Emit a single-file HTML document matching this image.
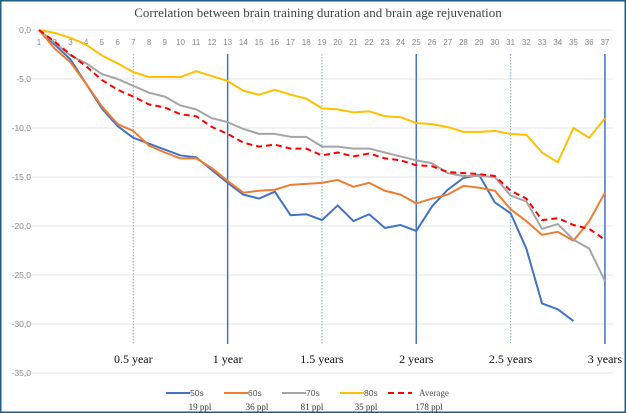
<!DOCTYPE html>
<html><head><meta charset="utf-8"><style>
body{margin:0;background:#fff}
svg{display:block}
</style></head><body>
<svg width="626" height="413" viewBox="0 0 626 413">
<rect x="0.5" y="0.5" width="625" height="412" fill="#fff" stroke="#1f5f7f" stroke-width="2"/>
<text x="318" y="17" text-anchor="middle" font-family="Liberation Serif, serif" font-size="13" fill="#444">Correlation between brain training duration and brain age rejuvenation</text>
<g id="grid"></g>
<g id="marks"></g>
<g id="legend"></g>
</svg>
<script>
const categories = Array.from({length:37},(_,i)=>String(i+1));
const s50 = [0,-1.5,-3,-5.5,-8,-9.8,-11,-11.6,-12.2,-12.8,-13,-14.3,-15.6,-16.8,-17.2,-16.5,-18.9,-18.8,-19.4,-17.9,-19.5,-18.8,-20.2,-19.9,-20.5,-18,-16.3,-15.1,-14.8,-17.6,-18.7,-22.3,-27.9,-28.5,-29.7];
const s60 = [0,-1.9,-3.3,-5.5,-7.8,-9.6,-10.3,-11.8,-12.5,-13.1,-13.1,-14.1,-15.4,-16.6,-16.4,-16.3,-15.8,-15.7,-15.6,-15.3,-16,-15.6,-16.4,-16.8,-17.7,-17.2,-16.8,-15.9,-16.1,-16.4,-18.3,-19.5,-20.9,-20.6,-21.5,-19.5,-16.6];
const s70 = [0,-1.3,-2.6,-3.4,-4.5,-5,-5.7,-6.4,-6.8,-7.7,-8.1,-9,-9.4,-10.1,-10.6,-10.6,-10.9,-10.9,-11.9,-11.9,-12.1,-12.1,-12.5,-12.9,-13.3,-13.6,-14.6,-14.9,-14.9,-15,-16.9,-17.5,-20.3,-19.8,-21.4,-22.3,-25.6];
const s80 = [0,-0.3,-0.8,-1.5,-2.6,-3.4,-4.3,-4.8,-4.8,-4.8,-4.2,-4.7,-5.2,-6.2,-6.6,-6.1,-6.6,-7,-8,-8.1,-8.4,-8.3,-8.8,-8.9,-9.5,-9.6,-9.9,-10.4,-10.4,-10.3,-10.6,-10.7,-12.5,-13.5,-10,-11,-9];
const sAvg = [0,-1.2,-2.5,-3.7,-5.1,-6.1,-6.8,-7.6,-7.9,-8.6,-8.8,-9.9,-10.6,-11.5,-11.9,-11.7,-12.1,-12.1,-12.8,-12.5,-12.9,-12.6,-13.1,-13.3,-13.8,-13.9,-14.5,-14.6,-14.7,-14.9,-16.4,-17.2,-19.4,-19.2,-19.9,-20.3,-21.4];
const yTicks = [0,-5,-10,-15,-20,-25,-30,-35];
const yTickLabels = ["0,0","-5,0","-10,0","-15,0","-20,0","-25,0","-30,0","-35,0"];
const yearCats = [7,13,19,25,31,37];
const yearLabels = ["0.5 year","1 year","1.5 years","2 years","2.5 years","3 years"];
const seriesNames = ["50s","60s","70s","80s","Average"];
const seriesCounts = ["19 ppl","36 ppl","81 ppl","35 ppl","178 ppl"];

const NS="http://www.w3.org/2000/svg";
const xs = c => 39 + (c-1)*15.72;
const ys = v => 30 - v*9.8;
function mk(tag, attrs, parent){const e=document.createElementNS(NS,tag);for(const k in attrs)e.setAttribute(k,attrs[k]);parent.appendChild(e);return e;}
const grid=document.getElementById('grid'), marks=document.getElementById('marks'), legend=document.getElementById('legend');

yTicks.forEach((t,i)=>{
  const l=mk('line',{x1:30,x2:613,y1:ys(t),y2:ys(t),stroke:'#e4e4e4','stroke-width':1},grid);
  
  
  const tx=mk('text',{x:31,y:ys(t)+3,'text-anchor':'end','font-family':'Liberation Sans, sans-serif','font-size':8.5,fill:'#888'},grid);
  tx.textContent=yTickLabels[i];
  
  
});
categories.forEach((c,i)=>{
  const tx=mk('text',{x:xs(i+1),y:45,'text-anchor':'middle','font-family':'Liberation Sans, sans-serif','font-size':8,fill:'#888'},grid);
  tx.textContent=c;
  
  
});
yearCats.forEach((c,i)=>{
  const solid = i%2===1;
  const l=mk('line',{x1:xs(c),x2:xs(c),y1:54,y2:344,stroke:solid?'#4472c4':'#8eaadb','stroke-width':solid?1.5:1,'stroke-dasharray':solid?'':'1.5,1.5'},grid);
  
  
  const tx=mk('text',{x:xs(c),y:363,'text-anchor':'middle','font-family':'Liberation Serif, serif','font-size':12,fill:'#111'},grid);
  tx.textContent=yearLabels[i];
  
  
});
const series=[s50,s60,s70,s80,sAvg];
const colors=['#4472c4','#ed7d31','#a5a5a5','#ffc000','#ff0000'];
series.forEach((s,k)=>{
  const pts=s.map((v,i)=>xs(i+1)+','+ys(v)).join(' ');
  const p=mk('polyline',{points:pts,fill:'none',stroke:colors[k],'stroke-width':2,'stroke-linejoin':'round','stroke-dasharray':k===4?'6,4':''},marks);
  
  
});
const lx=[166,224,282,340,388];
const cx=[200,257,312,366,429];
seriesNames.forEach((n,k)=>{
  const l=mk('line',{x1:lx[k],x2:lx[k]+24,y1:393,y2:393,stroke:colors[k],'stroke-width':2,'stroke-dasharray':k===4?'6,4':''},legend);
  
  
  const tx=mk('text',{x:lx[k]+(k===4?31:24),y:396,'font-family':k===4?'Liberation Serif, serif':'Liberation Sans, sans-serif','font-size':k===4?9:8.5,fill:'#555'},legend);
  tx.textContent=n;
  
  
  const c=mk('text',{x:cx[k],y:410,'font-family':'Liberation Serif, serif','font-size':9,fill:'#333','text-anchor':'middle'},legend);
  c.textContent=seriesCounts[k];
  
  
});
</script>
</body></html>
